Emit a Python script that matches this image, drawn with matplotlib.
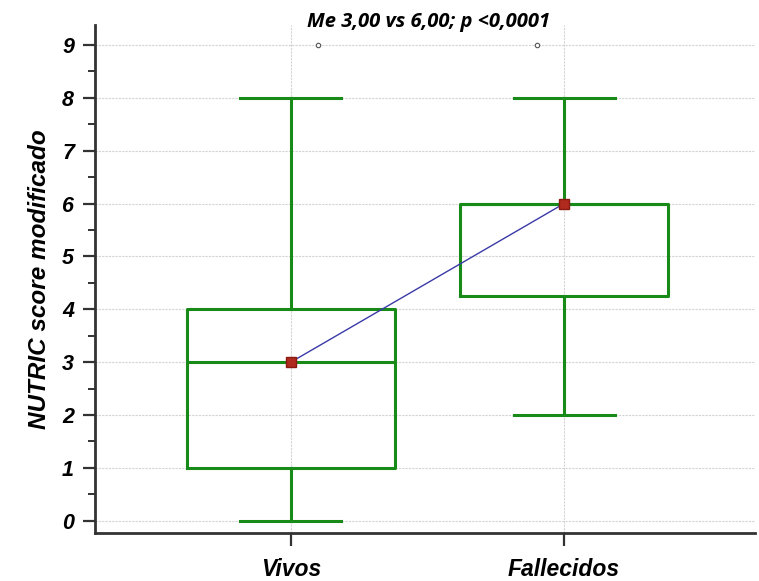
import matplotlib
matplotlib.use("Agg")
import matplotlib.pyplot as plt
from matplotlib.ticker import MultipleLocator

# summary values
groups = ["Vivos", "Fallecidos"]
whisk_lo = [0, 2]
q1 = [1, 4.25]
medians = [3, 6]
q3 = [4, 6]
whisk_hi = [8, 8]
means = [3, 6]
outlier_vals = [9, 9]
outlier_shift = [0.10, -0.10]

title = "Me 3,00 vs 6,00; p <0,0001"
ylabel = "NUTRIC score modificado"

green = "#188a18"

fig = plt.figure(figsize=(7.59, 5.81), dpi=100)
ax = fig.add_axes([0.125, 0.083, 0.87, 0.874])

positions = list(range(1, len(groups) + 1))
stats = []
for i, name in enumerate(groups):
    stats.append({
        "label": name,
        "whislo": whisk_lo[i],
        "q1": q1[i],
        "med": medians[i],
        "q3": q3[i],
        "whishi": whisk_hi[i],
        "fliers": [],
    })

line_kw = dict(color=green, linewidth=2.2)
ax.bxp(stats, positions=positions, widths=0.76, capwidths=0.37,
       showfliers=False, boxprops=line_kw, whiskerprops=line_kw,
       capprops=line_kw, medianprops=line_kw, zorder=3)

# line joining the means
ax.plot(positions, means, color="#3a3aa8", linewidth=1.0, zorder=4)
ax.plot(positions, means, linestyle="none", marker="s", markersize=7,
        markerfacecolor="#b02a1e", markeredgecolor="#8a1a10", zorder=5)

# outliers
ax.plot([p + s for p, s in zip(positions, outlier_shift)], outlier_vals,
        linestyle="none", marker="o", markersize=3.2,
        markerfacecolor="white", markeredgecolor="#555555",
        markeredgewidth=0.8, zorder=5)

ax.set_xlim(0.282, 2.70)
ax.set_ylim(-0.23, 9.38)
ax.set_xticks(positions)
ax.set_xticklabels(groups)
ax.yaxis.set_major_locator(MultipleLocator(1))
ax.yaxis.set_minor_locator(MultipleLocator(0.5))

ax.grid(True, which="major", color="#d4d4d4", linestyle=(0, (2, 1)),
        linewidth=0.8, zorder=0)
ax.set_axisbelow(True)

for side in ["top", "right"]:
    ax.spines[side].set_visible(False)
for side in ["left", "bottom"]:
    ax.spines[side].set_color("#333333")
    ax.spines[side].set_linewidth(2.0)

ax.tick_params(axis="y", which="major", length=9, width=1.6,
               color="#333333", pad=6)
ax.tick_params(axis="y", which="minor", length=5, width=1.4,
               color="#333333")
ax.tick_params(axis="x", which="major", length=9, width=1.6,
               color="#333333", pad=9)

tick_font = dict(family="Liberation Sans", weight="bold", style="italic")
for lab in ax.get_yticklabels():
    lab.set(fontsize=15.5, **tick_font)
for lab in ax.get_xticklabels():
    lab.set(fontsize=16.5, **tick_font)

ax.set_ylabel(ylabel, fontsize=17.5, labelpad=8, **tick_font)
fig.text(0.565, 0.962, title, ha="center", va="center", fontsize=14.5,
         family="Open Sans", weight="bold", style="italic")

fig.savefig("out.png", dpi=100)
